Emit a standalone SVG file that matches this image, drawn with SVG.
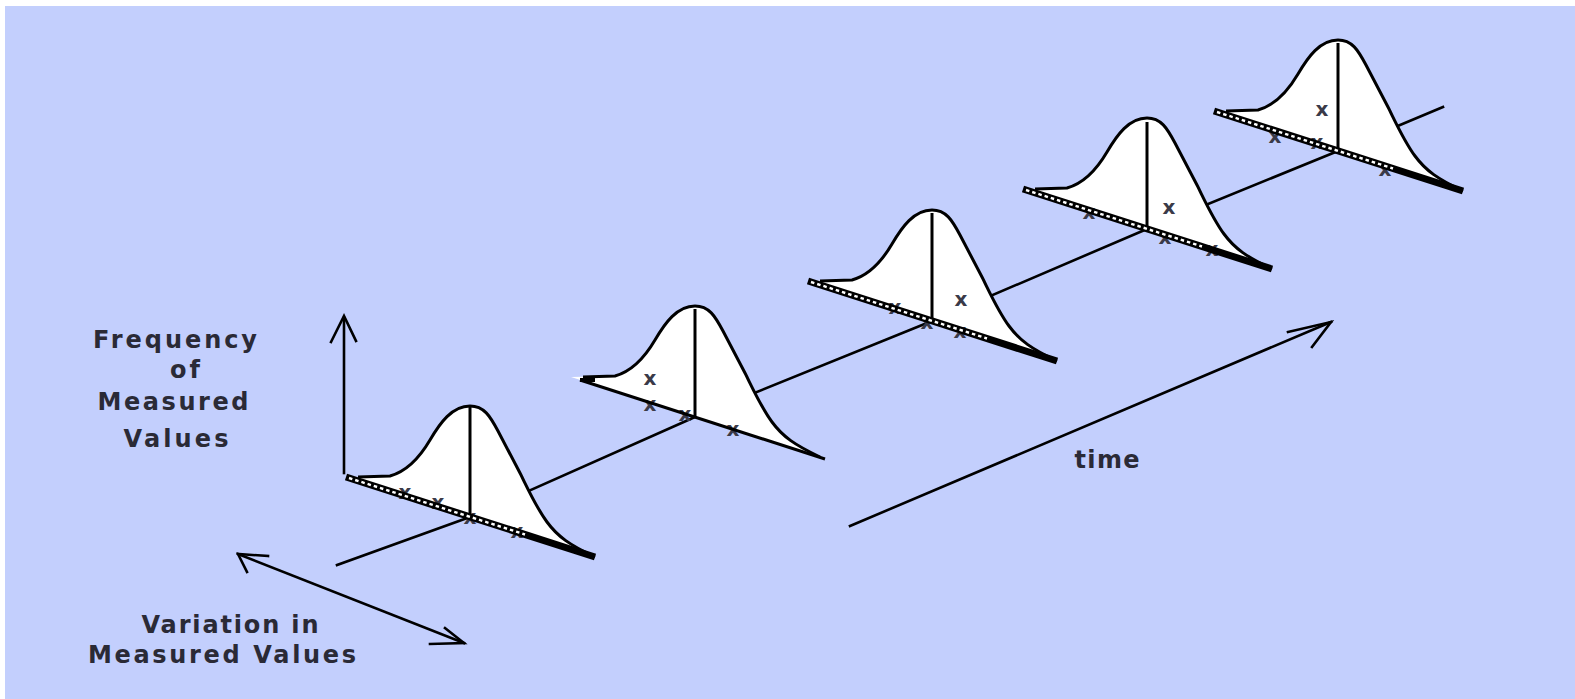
<svg xmlns="http://www.w3.org/2000/svg" xmlns:xlink="http://www.w3.org/1999/xlink" width="1575" height="699" viewBox="0 0 1575 699">
<style>
.bg{fill:#c3cffd}
.ln{stroke:#000;stroke-width:2.6;fill:none;stroke-linecap:square}
.bell{fill:#fff;stroke:none}
.bellout{fill:none;stroke:#000;stroke-width:3;stroke-linejoin:round}
.stem{stroke:#000;stroke-width:3}
.rail{stroke:#000;stroke-width:7;fill:none}
.rung{stroke:#fff;stroke-width:2.4;stroke-dasharray:3.5 3;fill:none}
.xm{font-family:"DejaVu Sans",sans-serif;font-weight:bold;font-size:20px;fill:#3a3a48;text-anchor:middle}
.lbl{font-family:"DejaVu Sans",sans-serif;font-weight:bold;font-size:24px;fill:#2a2a36;text-anchor:middle}
</style>
<defs>
<path id="bellfill" class="bell" d="M -124,-40 L -80,-41 C -62,-46 -50,-60 -40,-77 C -30,-94 -18,-111 0,-111 C 14,-111 20,-101 28,-86 L 50,-44 C 58,-28 66,-10 77,5 C 88,20 100,28 125,40 Z"/>
<path id="bellline" class="bellout" d="M -112,-40 L -80,-41 C -62,-46 -50,-60 -40,-77 C -30,-94 -18,-111 0,-111 C 14,-111 20,-101 28,-86 L 50,-44 C 58,-28 66,-10 77,5 C 88,20 100,28 125,40"/>
<g id="ladder"><line class="rail" x1="-124" y1="-40" x2="125" y2="40"/><line class="rung" x1="-121" y1="-39" x2="55" y2="17.5"/></g>
</defs>
<rect x="0" y="0" width="1575" height="699" fill="#fff"/>
<rect class="bg" x="5" y="6" width="1570" height="693"/>

<g id="connectors">
<polyline class="ln" points="337,565 470,517 695,417 932,321 1147,229 1338,151 1443,107"/>
<g id="freq-axis"><line class="ln" x1="344" y1="473" x2="344" y2="318"/><polyline class="ln" points="331,342 344,316 356,341"/></g>
<g id="variation-axis"><line class="ln" x1="238" y1="554" x2="464" y2="643"/><polyline class="ln" points="268,556 238,554 247,572"/><polyline class="ln" points="430,644 464,643 445,628"/></g>
<g id="time-axis"><line class="ln" x1="850" y1="526" x2="1331" y2="322"/><polyline class="ln" points="1288,332 1331,322 1312,347"/></g>
</g>

<g id="curve1" transform="translate(470,517)">
<use xlink:href="#bellfill"/><use xlink:href="#bellline"/><line class="stem" x1="0" y1="-111" x2="0" y2="0"/>
<text class="xm" x="-65" y="-18">x</text><text class="xm" x="-32" y="-8">x</text><text class="xm" x="0" y="7">x</text><text class="xm" x="47" y="21">x</text>
<use xlink:href="#ladder"/>
</g>

<g id="curve2" transform="translate(695,417)">
<use xlink:href="#bellfill"/><use xlink:href="#bellline"/><line class="stem" x1="0" y1="-108" x2="0" y2="0"/>
<text class="xm" x="-45" y="-32">x</text><text class="xm" x="-45" y="-6">x</text><text class="xm" x="-10" y="4">x</text><text class="xm" x="38" y="19">x</text>
<line x1="-115" y1="-37" x2="130" y2="42" stroke="#000" stroke-width="3"/><line x1="-115" y1="-37" x2="-100" y2="-37" stroke="#000" stroke-width="4"/>
</g>

<g id="curve3" transform="translate(932,321)">
<use xlink:href="#bellfill"/><use xlink:href="#bellline"/><line class="stem" x1="0" y1="-108" x2="0" y2="0"/>
<text class="xm" x="-37" y="-7">x</text><text class="xm" x="29" y="-15">x</text><text class="xm" x="-5" y="8">x</text><text class="xm" x="28" y="17">x</text>
<use xlink:href="#ladder"/>
</g>

<g id="curve4" transform="translate(1147,229)">
<use xlink:href="#bellfill"/><use xlink:href="#bellline"/><line class="stem" x1="0" y1="-107" x2="0" y2="0"/>
<text class="xm" x="-58" y="-10">x</text><text class="xm" x="22" y="-15">x</text><text class="xm" x="18" y="15">x</text><text class="xm" x="65" y="27">x</text>
<use xlink:href="#ladder"/>
</g>

<g id="curve5" transform="translate(1338,151)">
<use xlink:href="#bellfill"/><use xlink:href="#bellline"/><line class="stem" x1="0" y1="-108" x2="0" y2="0"/>
<text class="xm" x="-16" y="-35">x</text><text class="xm" x="-63" y="-8">x</text><text class="xm" x="-21" y="-2">x</text><text class="xm" x="47" y="25">x</text>
<use xlink:href="#ladder"/>
</g>

<g id="label-frequency">
<text class="lbl" x="175" y="348" textLength="164" lengthAdjust="spacing">Frequency</text>
<text class="lbl" x="185" y="378" textLength="30" lengthAdjust="spacing">of</text>
<text class="lbl" x="173" y="410" textLength="151" lengthAdjust="spacing">Measured</text>
<text class="lbl" x="176" y="447" textLength="105" lengthAdjust="spacing">Values</text>
</g>
<g id="label-variation">
<text class="lbl" x="230" y="633" textLength="177" lengthAdjust="spacing">Variation in</text>
<text class="lbl" x="222" y="663" textLength="268" lengthAdjust="spacing">Measured Values</text>
</g>
<g id="label-time">
<text class="lbl" x="1107" y="468" textLength="65" lengthAdjust="spacing">time</text>
</g>
</svg>
